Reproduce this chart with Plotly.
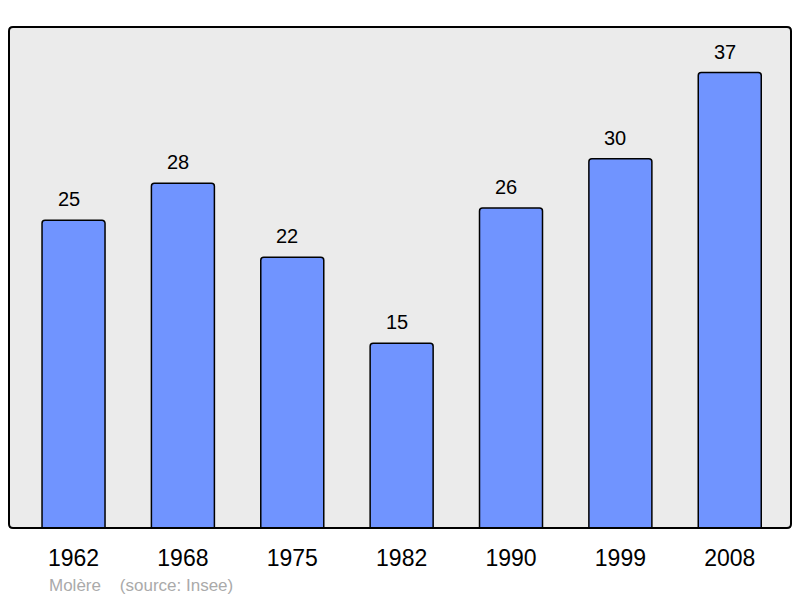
import plotly.graph_objects as go

years = ["1962", "1968", "1975", "1982", "1990", "1999", "2008"]
population = [25, 28, 22, 15, 26, 30, 37]

fig = go.Figure()
fig.add_trace(go.Bar(
    x=list(range(len(years))), y=population,
    width=0.576,
    marker=dict(color="#7094ff", line=dict(color="#000000", width=1.5), cornerradius=3),
    hoverinfo="skip",
))

for i, v in enumerate(population):
    fig.add_annotation(x=i, y=v, xref="x", yref="y", text=str(v), showarrow=False,
                       yanchor="bottom", yshift=8, xshift=-5,
                       font=dict(family="Liberation Sans, Arial", size=20, color="#000000"))

fig.add_annotation(xref="paper", yref="paper", x=0.048, y=-0.115,
                   xanchor="left", yanchor="middle", showarrow=False,
                   text="Molère    (source: Insee)",
                   font=dict(family="Liberation Sans, Arial", size=17, color="#aaaaaa"))

# rounded plot frame
W, H = 782.0, 501.0
rx, ry = 4 / W, 4 / H
path = (f"M {rx},0 L {1-rx},0 Q 1,0 1,{ry} L 1,{1-ry} Q 1,1 {1-rx},1 "
        f"L {rx},1 Q 0,1 0,{1-ry} L 0,{ry} Q 0,0 {rx},0 Z")
fig.add_shape(type="path", xref="paper", yref="paper", path=path,
              line=dict(color="#000000", width=2), layer="above")

fig.update_layout(
    width=792, height=590,
    margin=dict(l=1, r=9, t=19, b=70),
    paper_bgcolor="#ffffff",
    plot_bgcolor="#ebebeb",
    showlegend=False,
    xaxis=dict(range=[-0.59, 6.56], showgrid=False, zeroline=False,
               tickmode="array", tickvals=list(range(len(years))), ticktext=years,
               ticks="", ticklabelstandoff=14,
               tickfont=dict(family="Liberation Sans, Arial", size=23, color="#000000"),
               showline=False),
    yaxis=dict(range=[0, 40.7], showgrid=False, zeroline=False, showticklabels=False,
               ticks="", showline=False),
)

fig.write_html("out.html")
